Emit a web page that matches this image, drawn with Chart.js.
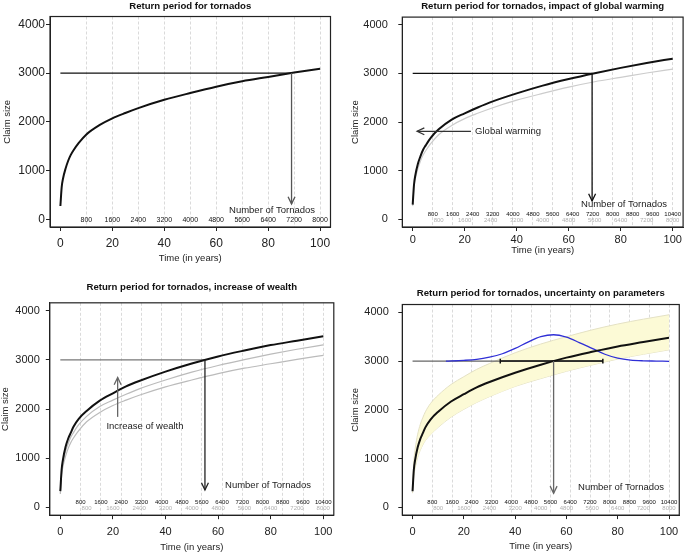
<!DOCTYPE html>
<html>
<head>
<meta charset="utf-8">
<script src="https://cdn.jsdelivr.net/npm/chart.js@4/dist/chart.umd.min.js"></script>
<style>
  html, body { margin: 0; padding: 0; background: #fff; }
  #wrap { position: relative; width: 685px; height: 553px; }
  canvas { position: absolute; }
</style>
</head>
<body>
<div id="wrap">
  <canvas id="c1" width="342" height="275" style="left:0px;top:0px"></canvas>
  <canvas id="c2" width="343" height="275" style="left:342px;top:0px"></canvas>
  <canvas id="c3" width="342" height="278" style="left:0px;top:275px"></canvas>
  <canvas id="c4" width="343" height="278" style="left:342px;top:275px"></canvas>
</div>
<script>
// valeurs
const years = [0, 0.5, 1, 2, 3, 4, 5, 7, 10, 15, 20, 25, 30, 40, 50, 60, 70, 80, 90, 100];
const claimBase = [270, 660, 830, 1040, 1200, 1320, 1410, 1560, 1740, 1930, 2070, 2180, 2280, 2450, 2590, 2720, 2830, 2920, 3010, 3090];
const claimWarming = [300, 710, 900, 1140, 1300, 1430, 1520, 1680, 1850, 2050, 2180, 2300, 2410, 2590, 2750, 2885, 3005, 3115, 3215, 3305];
const claimWealth = [330, 770, 970, 1230, 1400, 1520, 1640, 1800, 1960, 2170, 2320, 2460, 2570, 2760, 2925, 3070, 3190, 3300, 3390, 3480];
const bandUpper = [400, 950, 1190, 1500, 1700, 1840, 1960, 2130, 2300, 2520, 2680, 2830, 2950, 3170, 3350, 3500, 3640, 3760, 3860, 3950];
const bandLower = [290, 640, 800, 1020, 1170, 1280, 1370, 1490, 1640, 1850, 2010, 2150, 2270, 2480, 2640, 2790, 2920, 3040, 3140, 3230];
const densityYears = [13, 20, 25, 30, 35, 40, 45, 50, 55, 60, 65, 70, 75, 80, 85, 90, 95, 100];
const densityClaim = [3000, 3015, 3035, 3080, 3150, 3260, 3390, 3500, 3540, 3490, 3380, 3260, 3140, 3060, 3020, 3005, 3000, 2995];
const threshold = 3000;
const crossYears = [89, 69, 55, 55];
const arrowTips = [314, 375, 352, 287];
const ciYears = [34.2, 74.2];
const yearTicks = [0, 20, 40, 60, 80, 100];
const claimTicks = [0, 1000, 2000, 3000, 4000];
const countYears80 = [10, 20, 30, 40, 50, 60, 70, 80, 90, 100];
const countLabels80 = ['800', '1600', '2400', '3200', '4000', '4800', '5600', '6400', '7200', '8000'];
const countYears104 = [7.7, 15.4, 23.1, 30.8, 38.5, 46.2, 53.8, 61.5, 69.2, 76.9, 84.6, 92.3, 100];
const countLabels104 = ['800', '1600', '2400', '3200', '4000', '4800', '5600', '6400', '7200', '8000', '8800', '9600', '10400'];
const warmingArrow = [22.4, 1.7, 1810];   // de, vers, niveau
const wealthArrow = [21.8, 1840, 2640];   // annee, de, vers
const titles = [
  'Return period for tornados',
  'Return period for tornados, impact of global warming',
  'Return period for tornados, increase of wealth',
  'Return period for tornados, uncertainty on parameters'
];

const FONT = '"Liberation Sans", Arial, Helvetica, sans-serif';

function pts(xs, ys) {
  return xs.map((x, i) => ({ x: x, y: ys[i] }));
}

function curve(data, color, width, order, extra) {
  return Object.assign({
    type: 'line', data: data, borderColor: color, borderWidth: width,
    pointRadius: 0, fill: false, order: order, cubicInterpolationMode: 'monotone'
  }, extra || {});
}

// fleches, textes et cadre
const notesPlugin = {
  id: 'notes',
  afterDatasetsDraw(chart, args, opts) {
    const ctx = chart.ctx;
    const sx = chart.scales.x, sy = chart.scales.y;
    ctx.save();
    (opts.arrows || []).forEach(a => {
      const x1 = sx.getPixelForValue(a.from[0]), y1 = sy.getPixelForValue(a.from[1]);
      const x2 = sx.getPixelForValue(a.to[0]), y2 = sy.getPixelForValue(a.to[1]);
      ctx.strokeStyle = a.color;
      ctx.lineWidth = 1.3;
      ctx.beginPath();
      ctx.moveTo(x1, y1);
      ctx.lineTo(x2, y2);
      ctx.stroke();
      const ang = Math.atan2(y2 - y1, x2 - x1), len = 8, spread = Math.PI / 7;
      ctx.beginPath();
      ctx.moveTo(x2 - len * Math.cos(ang - spread), y2 - len * Math.sin(ang - spread));
      ctx.lineTo(x2, y2);
      ctx.lineTo(x2 - len * Math.cos(ang + spread), y2 - len * Math.sin(ang + spread));
      ctx.stroke();
    });
    ctx.fillStyle = '#222';
    ctx.font = '9.5px ' + FONT;
    ctx.textBaseline = 'middle';
    (opts.texts || []).forEach(t => {
      ctx.textAlign = t.align || 'center';
      ctx.fillText(t.text, sx.getPixelForValue(t.x), sy.getPixelForValue(t.y));
    });
    const a = chart.chartArea;
    ctx.strokeStyle = '#222';
    ctx.lineWidth = 1.2;
    ctx.strokeRect(a.left, a.top, a.right - a.left, a.bottom - a.top);
    ctx.restore();
  }
};

function makeScales(geo, rows) {
  const scales = {
    x: {
      type: 'linear', min: -4, max: 104, position: 'bottom',
      afterBuildTicks: s => { s.ticks = yearTicks.map(v => ({ value: v })); },
      afterFit: s => { s.height = geo.xAxisH; },
      grid: { display: true, drawOnChartArea: false, drawTicks: true, tickLength: 4, color: '#222' },
      border: { display: true, color: '#222' },
      ticks: {
        font: { family: FONT, size: geo.tickSize }, color: '#222', padding: geo.xTickPad,
        maxRotation: 0, autoSkip: false, callback: v => String(v)
      },
      title: {
        display: true, text: 'Time (in years)', color: '#222',
        font: { family: FONT, size: 9.5 }, padding: { top: 0, bottom: geo.xTitlePad }
      }
    },
    y: {
      type: 'linear', min: -160, max: 4160, position: 'left',
      afterBuildTicks: s => { s.ticks = claimTicks.map(v => ({ value: v })); },
      afterFit: s => { s.width = geo.yAxisW; },
      grid: { display: true, drawOnChartArea: false, drawTicks: true, tickLength: 4, color: '#222' },
      border: { display: true, color: '#222' },
      ticks: {
        font: { family: FONT, size: geo.tickSize }, color: '#222', padding: geo.yTickPad,
        callback: v => String(v)
      },
      title: {
        display: true, text: 'Claim size', color: '#222',
        font: { family: FONT, size: 9.5 }, padding: { top: geo.yTitlePad, bottom: 0 }
      }
    }
  };
  // lignes de graduation "nombre de tornades", a l'interieur du cadre
  rows.forEach((r, i) => {
    scales['n' + i] = {
      type: 'linear', axis: 'x', min: -4, max: 104, position: { y: r.at },
      afterBuildTicks: s => { s.ticks = r.years.map(v => ({ value: v })); },
      grid: { display: r.grid, drawOnChartArea: true, drawTicks: false, color: '#dadada', lineWidth: 1 },
      border: { display: false, dash: [3, 2] },
      ticks: {
        font: { family: FONT, size: r.size }, color: r.color, padding: 0,
        maxRotation: 0, autoSkip: false, callback: (v, idx) => r.labels[idx]
      }
    };
  });
  return scales;
}

function makePanel(id, geo, title, datasets, rows, notes) {
  return new Chart(document.getElementById(id), {
    type: 'line',
    data: { datasets: datasets },
    options: {
      responsive: false,
      animation: false,
      events: [],
      layout: { autoPadding: false, padding: { top: geo.padTop, right: geo.padRight, left: 0, bottom: 0 } },
      scales: makeScales(geo, rows),
      plugins: {
        legend: { display: false },
        tooltip: { enabled: false },
        title: {
          display: true, text: title, fullSize: false, color: '#111',
          font: { family: FONT, size: 9.6, weight: 'bold' },
          padding: { top: 0, bottom: geo.titlePad }
        },
        notes: notes
      }
    },
    plugins: [notesPlugin]
  });
}

const black104 = { years: countYears104, labels: countLabels104, at: 180, color: '#111', size: 6, grid: true };
const grey80 = { years: countYears80, labels: countLabels80, at: 55, color: '#b0b0b0', size: 6, grid: false };

// 1 - periode de retour
makePanel('c1',
  { padTop: 0.5, padRight: 11.5, titlePad: 4.5, yAxisW: 50, xAxisH: 48, xTickPad: 5.5, xTitlePad: 11, yTickPad: 1, yTitlePad: 2, tickSize: 12 },
  titles[0],
  [
    curve(pts(years, claimBase), '#111', 2, 1),
    curve(pts([0, crossYears[0]], [threshold, threshold]), '#111', 1.3, 3, { cubicInterpolationMode: 'default' })
  ],
  [{ years: countYears80, labels: countLabels80, at: 60, color: '#111', size: 7, grid: true }],
  {
    arrows: [{ from: [crossYears[0], threshold], to: [crossYears[0], arrowTips[0]], color: '#555' }],
    texts: [{ x: 81.5, y: 180, text: 'Number of Tornados' }]
  }
);

// 2 - rechauffement climatique
makePanel('c2',
  { padTop: 0.5, padRight: 1.9, titlePad: 4.5, yAxisW: 60.3, xAxisH: 48, xTickPad: 2, xTitlePad: 19, yTickPad: 10.5, yTitlePad: 7.7, tickSize: 11 },
  titles[1],
  [
    curve(pts(years, claimWarming), '#111', 2, 1),
    curve(pts([0, crossYears[1]], [threshold, threshold]), '#111', 1.3, 3, { cubicInterpolationMode: 'default' }),
    curve(pts(years, claimBase), '#cccccc', 1.2, 4)
  ],
  [black104, grey80],
  {
    arrows: [
      { from: [crossYears[1], threshold], to: [crossYears[1], arrowTips[1]], color: '#111' },
      { from: [warmingArrow[0], warmingArrow[2]], to: [warmingArrow[1], warmingArrow[2]], color: '#333' }
    ],
    texts: [
      { x: 81.3, y: 314, text: 'Number of Tornados' },
      { x: 24, y: warmingArrow[2], text: 'Global warming', align: 'left' }
    ]
  }
);

// 3 - augmentation de la richesse
makePanel('c3',
  { padTop: 6.5, padRight: 8.2, titlePad: 9.8, yAxisW: 49.8, xAxisH: 37.8, xTickPad: 6.6, xTitlePad: 0.3, yTickPad: 6, yTitlePad: 0, tickSize: 11 },
  titles[2],
  [
    curve(pts(years, claimWealth), '#111', 2, 1),
    curve(pts([0, crossYears[2]], [threshold, threshold]), '#777', 1.3, 3, { cubicInterpolationMode: 'default' }),
    curve(pts(years, claimWarming), '#bbbbbb', 1.2, 4),
    curve(pts(years, claimBase), '#bbbbbb', 1.2, 4)
  ],
  [black104, grey80],
  {
    arrows: [
      { from: [crossYears[2], threshold], to: [crossYears[2], arrowTips[2]], color: '#222' },
      { from: [wealthArrow[0], wealthArrow[1]], to: [wealthArrow[0], wealthArrow[2]], color: '#666' }
    ],
    texts: [
      { x: 79, y: 440, text: 'Number of Tornados' },
      { x: 32.2, y: 1640, text: 'Increase of wealth' }
    ]
  }
);

// 4 - incertitude sur les parametres
const ciBar = pts(
  [ciYears[0], ciYears[0], ciYears[0], ciYears[1], ciYears[1], ciYears[1]],
  [threshold - 50, threshold + 50, threshold, threshold, threshold + 50, threshold - 50]
);
makePanel('c4',
  { padTop: 13, padRight: 1.9, titlePad: 5, yAxisW: 60.3, xAxisH: 37.9, xTickPad: 6.6, xTitlePad: 1, yTickPad: 9.5, yTitlePad: 7.7, tickSize: 11 },
  titles[3],
  [
    curve(pts(years, bandUpper), '#e4e1c4', 1, 6, { fill: '+1', backgroundColor: '#fcfad6' }),
    curve(pts(years, bandLower), '#e4e1c4', 1, 6),
    curve(pts(years, claimWealth), '#111', 2, 1),
    curve(pts([0, ciYears[1]], [threshold, threshold]), '#666', 1.3, 3, { cubicInterpolationMode: 'default' }),
    curve(pts(densityYears, densityClaim), '#2f2fd6', 1.3, 2),
    curve(ciBar, '#111', 1.5, 0, { cubicInterpolationMode: 'default' })
  ],
  [black104, grey80],
  {
    arrows: [{ from: [crossYears[3], threshold], to: [crossYears[3], arrowTips[3]], color: '#666' }],
    texts: [{ x: 81.3, y: 402, text: 'Number of Tornados' }]
  }
);
</script>
</body>
</html>
